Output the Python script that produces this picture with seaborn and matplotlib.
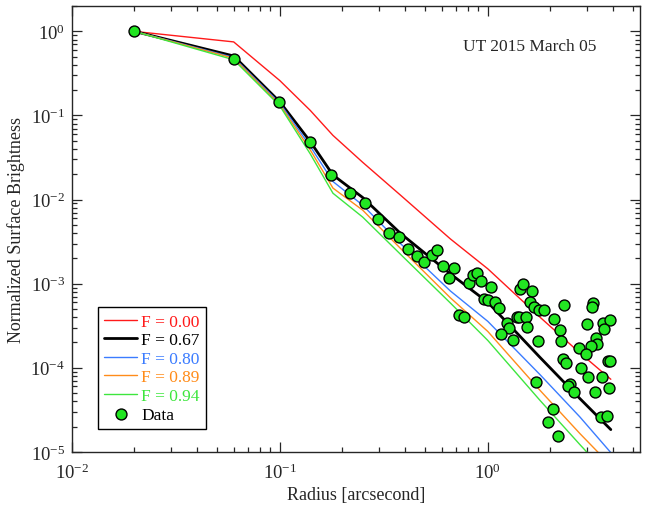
import numpy as np
import pandas as pd
import matplotlib.pyplot as plt
import seaborn as sns

# model radii and profiles (normalized surface brightness)
model_r = [0.02, 0.06, 0.1, 0.14, 0.18, 0.25, 0.38, 0.66, 1.0, 1.78, 2.77, 3.9]
f000 = [1.0, 0.75, 0.26, 0.115, 0.058, 0.0278, 0.0113, 0.00341, 0.0015, 0.0004, 0.00015, 7.3e-5]
f067 = [1.0, 0.51, 0.145, 0.049, 0.0196, 0.0106, 0.00397, 0.00131, 0.0006, 0.000133, 4.3e-5, 1.84e-5]
f080 = [1.0, 0.49, 0.14, 0.043, 0.0164, 0.0086, 0.0030, 0.00082, 0.000356, 8.3e-5, 2.6e-5, 9.8e-6]
f089 = [1.0, 0.48, 0.135, 0.039, 0.0137, 0.0075, 0.00263, 0.00068, 0.00027, 5.4e-5, 1.65e-5, 6.9e-6]
f094 = [1.0, 0.46, 0.13, 0.035, 0.0119, 0.0062, 0.00224, 0.00059, 0.000211, 4.1e-5, 1.22e-5, 4.9e-6]

# observed points
data_r = [0.02, 0.06, 0.099, 0.139, 0.176, 0.217, 0.257, 0.296, 0.336, 0.375,
          0.414, 0.454, 0.492, 0.536, 0.570, 0.609, 0.687, 0.651, 0.811, 0.844,
          0.889, 0.925, 1.034, 0.960, 1.004, 1.08, 1.126, 0.728, 0.767, 1.374,
          1.41, 1.518, 1.238, 1.266, 1.151, 1.314, 1.425, 1.469, 1.63, 1.59,
          1.66, 1.77, 1.86, 2.32, 2.08, 2.22, 2.25, 1.75, 3.21, 3.17,
          3.0, 3.56, 3.87, 3.62, 3.31, 3.33, 3.13, 2.75, 2.96, 2.80,
          2.29, 2.37, 3.04, 3.54, 3.80, 3.87, 3.28, 3.82, 1.70, 2.48,
          2.42, 2.60, 2.06, 1.95, 2.18, 3.48, 3.72, 1.55]
data_sb = [1.0, 0.47, 0.144, 0.049, 0.0196, 0.0119, 0.0091, 0.0059, 0.00404, 0.00359,
           0.00261, 0.00211, 0.00179, 0.00217, 0.00249, 0.00164, 0.00155, 0.00116, 0.00101, 0.00127,
           0.00133, 0.00109, 0.000904, 0.00065, 0.000638, 0.0006, 0.000508, 0.000423, 0.000398, 0.000398,
           0.000398, 0.000398, 0.000343, 0.000294, 0.000254, 0.000213, 0.000863, 0.00098, 0.000817, 0.00061,
           0.000532, 0.000486, 0.000486, 0.000556, 0.000376, 0.00028, 0.000211, 0.000207, 0.000583, 0.000525,
           0.000328, 0.00034, 0.000369, 0.000286, 0.000223, 0.000191, 0.000181, 0.00017, 0.000144, 9.82e-5,
           0.000126, 0.000115, 7.82e-5, 7.67e-5, 0.000121, 0.000119, 5.18e-5, 5.78e-5, 6.81e-5, 6.5e-5,
           6.04e-5, 5.18e-5, 3.25e-5, 2.28e-5, 1.53e-5, 2.58e-5, 2.65e-5, 0.000302]

labels = ["F = 0.00", "F = 0.67", "F = 0.80", "F = 0.89", "F = 0.94"]
colors = ["#ff1a1a", "#000000", "#3b7cff", "#ff8c1a", "#3ee63e"]
widths = [1.0, 2.0, 1.0, 1.0, 1.0]

sns.set_style("ticks")
plt.rcParams["font.family"] = ["Liberation Serif", "DejaVu Serif"]
plt.rcParams["mathtext.fontset"] = "stix"

fig = plt.figure(figsize=(6.47, 5.06), dpi=100)
ax = fig.add_axes([0.111, 0.105, 0.878, 0.881])

for lab, prof, c, lw in zip(labels, [f000, f067, f080, f089, f094], colors, widths):
    df = pd.DataFrame({"r": model_r, "sb": prof})
    sns.lineplot(data=df, x="r", y="sb", color=c, linewidth=lw, label=lab, ax=ax)

pts = pd.DataFrame({"r": data_r, "sb": data_sb})
sns.scatterplot(data=pts, x="r", y="sb", color="#22e622", edgecolor="black",
                linewidth=1.0, s=62, label="Data", ax=ax, zorder=5)

ax.set_xscale("log")
ax.set_yscale("log")
ax.set_xlim(0.01, 5.38)
ax.set_ylim(1e-5, 2.0)

ax.tick_params(which="both", direction="in", top=True, right=True, labelsize=13.5, width=0.9)
ax.tick_params(which="major", length=7)
ax.tick_params(which="minor", length=3.5)
ax.tick_params(axis="x", which="both", pad=8)
ax.tick_params(axis="y", which="both", pad=5)
for s in ax.spines.values():
    s.set_linewidth(1.0)

ax.set_xlabel("Radius [arcsecond]", fontsize=13)
ax.set_ylabel("Normalized Surface Brightness", fontsize=13)
ax.xaxis.set_label_coords(0.5, -0.077)
ax.yaxis.set_label_coords(-0.082, 0.5)

ax.text(0.924, 0.91, "UT 2015 March 05", transform=ax.transAxes, ha="right", va="center", fontsize=12.5)

leg = ax.legend(loc="lower left", bbox_to_anchor=(0.046, 0.052), borderaxespad=0,
                fontsize=12.5, frameon=True, fancybox=False, edgecolor="black",
                handlelength=1.9, handletextpad=0.25, labelspacing=0.14,
                borderpad=0.35, framealpha=1)
leg.get_frame().set_linewidth(1.0)
for txt, c in zip(leg.get_texts(), colors + ["black"]):
    txt.set_color(c)

fig.savefig("out.png", dpi=100)
